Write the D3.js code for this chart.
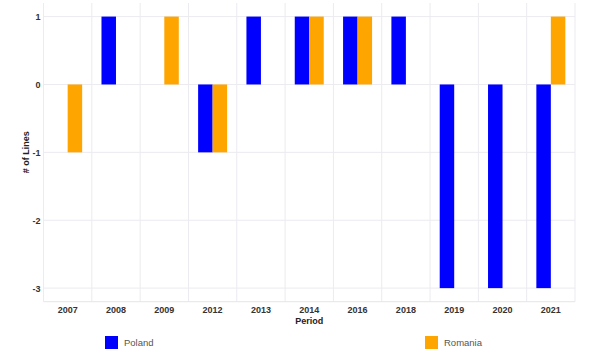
<!DOCTYPE html>
<html><head><meta charset="utf-8">
<script src="https://cdn.jsdelivr.net/npm/d3@7"></script>
<style>body{margin:0;background:#fff}svg{display:block;font-family:"Liberation Sans",Arial,sans-serif}</style>
</head><body><svg id="c" width="600" height="363"></svg>
<script>
const periods = ["2007","2008","2009","2012","2013","2014","2016","2018","2019","2020","2021"];
const seriesNames = ["Poland","Romania"];
const poland  = [null, 1, null, -1, 1, 1, 1, 1, -3, -3, -3];
const romania = [-1, null, 1, -1, null, 1, 1, null, null, null, 1];
const yTicks = [1, 0, -1, -2, -3];
const colors = ["#0000FF", "#FFA500"];

const svg = d3.select("#c");
const L = 43.5, R = 575, T = 3, B = 301.7;
const x = d3.scaleBand().domain(periods).range([L, R]).padding(0);
const x1 = d3.scaleBand().domain(seriesNames).range([0, x.bandwidth()]).paddingOuter(0.667).paddingInner(0);
const y = d3.scaleLinear().domain([-3.2, 1.2]).range([B, T]);

const grid = svg.append("g").attr("stroke", "#ebebf0").attr("stroke-width", 1);
yTicks.forEach(t => grid.append("line").attr("x1", L).attr("x2", R).attr("y1", y(t)).attr("y2", y(t)));
const bounds = periods.map(p => x(p)).concat([R]);
bounds.forEach(b => grid.append("line").attr("x1", b).attr("x2", b).attr("y1", T).attr("y2", B));
grid.append("line").attr("x1", L).attr("x2", R).attr("y1", B).attr("y2", B).attr("stroke", "#e4e4ea");

const data = [poland, romania];
data.forEach((vals, si) => {
  svg.append("g").selectAll("rect").data(periods.map((p, i) => ({p, v: vals[i]})).filter(d => d.v !== null))
    .join("rect")
    .attr("x", d => x(d.p) + x1(seriesNames[si]))
    .attr("width", x1.bandwidth())
    .attr("y", d => y(Math.max(0, d.v)))
    .attr("height", d => Math.abs(y(d.v) - y(0)))
    .attr("fill", colors[si]);
});

const yAxis = svg.append("g").attr("transform", `translate(${L},0)`)
  .call(d3.axisLeft(y).tickValues(yTicks).tickSize(0).tickPadding(3).tickFormat(d => String(d)));
yAxis.select(".domain").remove();
yAxis.selectAll("text").attr("font-size", 9).attr("font-weight", "bold").attr("fill", "#333").attr("font-family", "Liberation Sans, Arial, sans-serif");

const xAxis = svg.append("g").attr("transform", `translate(0,${B})`)
  .call(d3.axisBottom(x).tickSize(0).tickPadding(5));
xAxis.select(".domain").remove();
xAxis.selectAll("text").attr("font-size", 9).attr("font-weight", "bold").attr("fill", "#333").attr("font-family", "Liberation Sans, Arial, sans-serif");

svg.append("text").attr("x", (L + R) / 2).attr("y", 324).attr("text-anchor", "middle")
  .attr("font-size", 9).attr("font-weight", "bold").attr("fill", "#222").text("Period");
svg.append("text").attr("transform", `translate(29,${(T + B) / 2}) rotate(-90)`).attr("text-anchor", "middle")
  .attr("font-size", 9).attr("font-weight", "bold").attr("fill", "#222").text("# of Lines");

const legX = [105, 425];
seriesNames.forEach((n, i) => {
  svg.append("rect").attr("x", legX[i]).attr("y", 336).attr("width", 13).attr("height", 13).attr("fill", colors[i]);
  svg.append("text").attr("x", legX[i] + 19).attr("y", 345.5).attr("font-size", 9.5).attr("fill", "#555").text(n);
});
</script></body></html>
